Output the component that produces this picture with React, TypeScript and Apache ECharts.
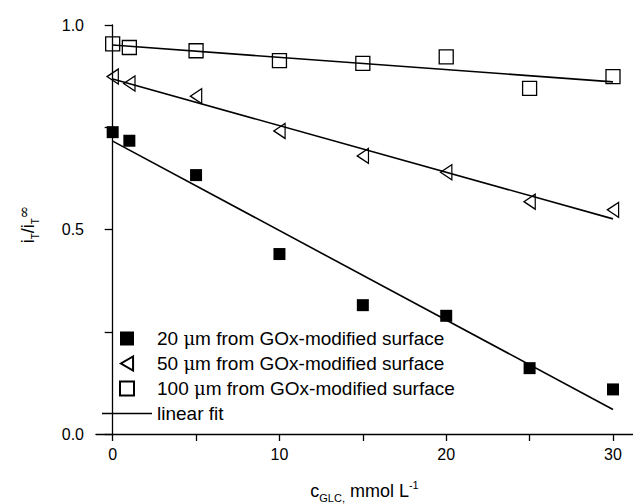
import React, { useEffect, useRef } from "react";
import * as echarts from "echarts";

const xValues = [0, 1, 5, 10, 15, 20, 25, 30];
const y20um = [0.738, 0.717, 0.633, 0.44, 0.315, 0.289, 0.161, 0.109];
const y50um = [0.874, 0.857, 0.826, 0.741, 0.68, 0.64, 0.568, 0.548];
const y100um = [0.954, 0.945, 0.937, 0.913, 0.906, 0.922, 0.845, 0.874];

const fitX = [0, 30];
const fit20um = [0.716, 0.06];
const fit50um = [0.868, 0.526];
const fit100um = [0.951, 0.861];

const xTickValues = [0, 5, 10, 15, 20, 25, 30];
const xLabelValues = [0, 10, 20, 30];
const yLabelValues = [0, 0.5, 1];

const seriesNames = [
  "20 μm from GOx-modified surface",
  "50 μm from GOx-modified surface",
  "100 μm from GOx-modified surface",
];
const fitName = "linear fit";

const FONT = "'Liberation Sans', Arial, Helvetica, sans-serif";
const SQUARE = "path://M0,0 L10,0 L10,10 L0,10 Z";
const LEFT_TRIANGLE = "path://M13,0 L13,15 L0,7.5 Z";

const pairs = (xs: number[], ys: number[]) => xs.map((x, i) => [x, ys[i]]);

export default function App() {
  const ref = useRef<HTMLDivElement>(null);
  useEffect(() => {
    if (!ref.current) return;
    const chart = echarts.init(ref.current, undefined, { renderer: "svg" });
    const marker = { color: "rgba(0,0,0,0)", borderColor: "#000", borderWidth: 1.3, opacity: 1 };
    const fitLine = (ys: number[]) => ({
      type: "line",
      name: fitName,
      data: pairs(fitX, ys),
      symbol: "none",
      lineStyle: { color: "#000", width: 1.6 },
      itemStyle: { color: "#000" },
      z: 3,
    });
    chart.setOption({
      animation: false,
      backgroundColor: "#fff",
      textStyle: { fontFamily: FONT, color: "#000" },
      grid: { left: 96, right: 0, top: 25, bottom: 70, containLabel: false, outerBoundsMode: "none" },
      legend: {
        orient: "vertical",
        left: 102,
        top: 329,
        padding: 0,
        itemWidth: 50,
        itemHeight: 14,
        itemGap: 6,
        selectedMode: false,
        symbolKeepAspect: true,
        data: [
          { name: seriesNames[0] },
          { name: seriesNames[1] },
          { name: seriesNames[2] },
          { name: fitName, icon: "path://M0,0 L50,0 L50,1.6 L0,1.6 Z" },
        ],
        formatter: (name: string) => name.replace("μ", "{mu|μ}"),
        textStyle: {
          fontFamily: FONT,
          fontSize: 19,
          lineHeight: 19,
          color: "#000",
          rich: {
            mu: { fontFamily: "'DejaVu Serif', serif", fontSize: 18, color: "#000" },
          },
        },
      },
      xAxis: {
        type: "value",
        min: -1,
        max: 31.2,
        name: "{m|c}{s|GLC,}{m| mmol L}{u|-1}",
        nameLocation: "middle",
        nameGap: 45,
        nameTextStyle: {
          rich: {
            m: { fontFamily: FONT, fontSize: 18, lineHeight: 24, color: "#000" },
            s: { fontFamily: FONT, fontSize: 11, lineHeight: 10, verticalAlign: "bottom", color: "#000" },
            u: { fontFamily: FONT, fontSize: 11, lineHeight: 10, verticalAlign: "top", color: "#000" },
          },
        },
        axisLine: { lineStyle: { color: "#000", width: 1.3 } },
        axisTick: { show: true, inside: false, length: 7, customValues: xTickValues, lineStyle: { color: "#000", width: 1.3 } },
        axisLabel: { customValues: xLabelValues, margin: 12, fontSize: 16, color: "#000", fontFamily: FONT },
        splitLine: { show: false },
      },
      yAxis: {
        type: "value",
        min: 0,
        max: 1,
        interval: 0.25,
        name: "{m|i}{s|T}{m|/i}{s|T}{u|∞}",
        nameLocation: "middle",
        nameRotate: 90,
        nameGap: 56,
        nameTextStyle: {
          padding: [0, 0, 0, 10],
          rich: {
            m: { fontFamily: FONT, fontSize: 18, lineHeight: 24, color: "#000" },
            s: { fontFamily: FONT, fontSize: 10, lineHeight: 10, verticalAlign: "bottom", color: "#000" },
            u: { fontFamily: "'DejaVu Serif', serif", fontSize: 15, lineHeight: 14, verticalAlign: "top", color: "#000" },
          },
        },
        axisLine: { show: true, lineStyle: { color: "#000", width: 1.3 } },
        axisTick: { show: true, inside: false, length: 8, lineStyle: { color: "#000", width: 1.3 } },
        axisLabel: {
          margin: 12,
          fontSize: 16,
          color: "#000",
          fontFamily: FONT,
          formatter: (v: number) => (yLabelValues.some((t) => Math.abs(t - v) < 1e-9) ? v.toFixed(1) : ""),
        },
        splitLine: { show: false },
      },
      series: [
        {
          type: "scatter",
          name: seriesNames[0],
          data: pairs(xValues, y20um),
          symbol: SQUARE,
          symbolSize: 12,
          symbolKeepAspect: true,
          itemStyle: { color: "#000", borderColor: "#000", borderWidth: 0, opacity: 1 },
          z: 4,
        },
        {
          type: "scatter",
          name: seriesNames[1],
          data: pairs(xValues, y50um),
          symbol: LEFT_TRIANGLE,
          symbolSize: [13, 15],
          symbolKeepAspect: true,
          itemStyle: marker,
          z: 4,
        },
        {
          type: "scatter",
          name: seriesNames[2],
          data: pairs(xValues, y100um),
          symbol: SQUARE,
          symbolSize: 14,
          symbolKeepAspect: true,
          itemStyle: marker,
          z: 4,
        },
        fitLine(fit20um),
        fitLine(fit50um),
        fitLine(fit100um),
      ],
    });
    return () => chart.dispose();
  }, []);
  return (
    <div
      ref={ref}
      style={{ position: "fixed", left: 0, top: 0, width: 633, height: 504, background: "#fff" }}
    />
  );
}
